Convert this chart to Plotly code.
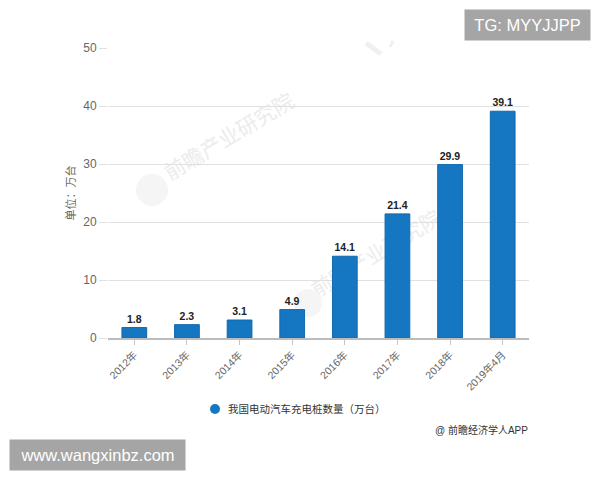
import plotly.graph_objects as go

categories = ['2012年', '2013年', '2014年', '2015年', '2016年', '2017年', '2018年', '2019年4月']
values = [1.8, 2.3, 3.1, 4.9, 14.1, 21.4, 29.9, 39.1]
y_ticks = [0, 10, 20, 30, 40, 50]
series_name = '我国电动汽车充电桩数量（万台）'
y_title = '单位：万台'
credit = '@ 前瞻经济学人APP'
watermark = '前瞻产业研究院'

BLUE = '#1577c2'
FONT = 'Liberation Sans, Noto Sans CJK SC'


# page pixels to paper coordinates, plot area runs 108..529 / 48..338 on the page
def px(x):
    return (x - 108) / 421


def py(y):
    return (338 - y) / 290


fig = go.Figure()

fig.add_trace(go.Bar(
    x=categories, y=values,
    name=series_name,
    width=0.47,
    marker=dict(color=BLUE, line=dict(color='#1269ab', width=1)),
    text=[str(v) for v in values],
    textposition='outside',
    cliponaxis=False,
    textfont=dict(family=FONT, size=10.5, color='#222222', weight='bold'),
    showlegend=False))

fig.update_xaxes(
    type='category', tickangle=-45, ticks='outside', ticklen=5, tickcolor='#c4c4c4',
    showline=True, linecolor='#bcbcbc', linewidth=1.5, showgrid=False,
    tickfont=dict(family=FONT, size=10.5, color='#666666'))
fig.update_yaxes(
    range=[0, 50], tickvals=y_ticks, ticks='outside', ticklen=8, tickcolor='#e0e0e0',
    gridcolor='#e0e0e0', gridwidth=1, zeroline=False, showline=False,
    tickfont=dict(family=FONT, size=12, color='#666666'),
    title=dict(text=y_title, standoff=5, font=dict(family=FONT, size=11, color='#666666')))

# faint watermarks, kept under the bars
for wx, wy in [(228, 135), (375, 252)]:
    fig.add_shape(type='rect', xref='paper', yref='paper', layer='below', line_width=0,
                  fillcolor='rgba(0,0,0,0)', x0=px(wx - 10), x1=px(wx + 10), y0=py(wy + 10), y1=py(wy - 10),
                  label=dict(text=watermark, textangle=-31, textposition='middle center',
                             font=dict(family=FONT, size=21, color='#ececec')))
for lx, ly, r in [(152, 190, 16), (308, 303, 14)]:
    fig.add_shape(type='circle', xref='paper', yref='paper', layer='below', line_width=0,
                  fillcolor='#f5f5f5', x0=px(lx - r), x1=px(lx + r), y0=py(ly + r), y1=py(ly - r))
# bit of a third watermark, cut off at the top
fig.add_shape(type='line', xref='paper', yref='paper', layer='below',
              line=dict(color='#f0f0f0', width=5), x0=px(366), x1=px(381), y0=py(43), y1=py(54))
fig.add_shape(type='line', xref='paper', yref='paper', layer='below',
              line=dict(color='#f0f0f0', width=3), x0=px(393), x1=px(390), y0=py(41), y1=py(47))

# legend, drawn by hand to get the marker as close to the text as in the picture
fig.add_shape(type='circle', xref='paper', yref='paper', line_width=0, fillcolor=BLUE,
              x0=px(210), x1=px(220), y0=py(414), y1=py(404))
fig.add_annotation(x=px(226), y=py(409), xref='paper', yref='paper', text=series_name,
                   showarrow=False, xanchor='left', yanchor='middle',
                   font=dict(family=FONT, size=10.5, color='#333333'))

fig.add_annotation(x=px(530), y=py(430), xref='paper', yref='paper', text=credit,
                   showarrow=False, xanchor='right', yanchor='middle',
                   font=dict(family=FONT, size=10, color='#333333'))

# grey banners stuck on the picture
fig.add_annotation(x=px(527.5), y=py(25), xref='paper', yref='paper', text='TG: MYYJJPP',
                   showarrow=False, bgcolor='#a5a5a5', width=125, height=30, borderpad=0,
                   xanchor='center', yanchor='middle',
                   font=dict(family='Liberation Sans', size=16.5, color='white'))
fig.add_annotation(x=px(97.5), y=py(455), xref='paper', yref='paper', text='www.wangxinbz.com',
                   showarrow=False, bgcolor='#a5a5a5', width=175, height=30, borderpad=0,
                   xanchor='center', yanchor='middle',
                   font=dict(family='Liberation Sans', size=16.5, color='white'))

fig.update_layout(
    width=592, height=472,
    margin=dict(l=100, r=71, t=40, b=142),
    paper_bgcolor='white', plot_bgcolor='rgba(0,0,0,0)',
    font=dict(family=FONT),
    bargap=0.53,
    showlegend=False)

fig.write_html("out.html")
